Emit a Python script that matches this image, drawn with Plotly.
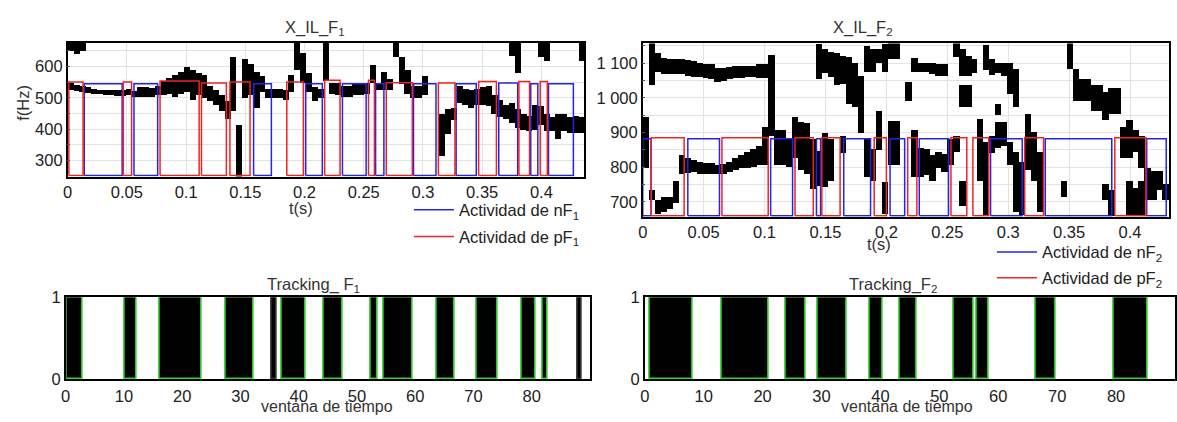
import plotly.graph_objects as go

W, H = 1177, 422
DT = 0.0049  # duration of one analysis window (s)

# ---------------- X_IL_F1 : spectrogram track (window index -> low/high Hz) ----------------
tl_main_lo = [525, 522, 520, 518, 515, 512, 510, 510, 508, 508, 510, 505, 505, 505, 505, 510, 510, 515,
              505, 515, 520, 495, 510, 500, 490, 480, 460, 435, 460, 250, 500, 510, 470, 520, 500, 500,
              500, 495, 520, 590, 550, 520, 490, 500, 555, 515, 510, 505, 505, 510, 510, 515, 550, 525,
              525, 525, 630, 545, 515, 500, 500, 510, None, None, 315, 385, 430, 485, 480, 470, 480, 480,
              475, 450, 440, 435, 420, 405, 400, 395, 400, 415, 395, 395, 370, 395, 390, 390, 390]
tl_main_hi = [547, 542, 538, 535, 530, 526, 525, 525, 525, 525, 530, 522, 535, 535, 532, 540, 555, 565,
              575, 585, 600, 590, 580, 575, 540, 525, 510, 490, 630, 415, 625, 610, 585, 570, 530, 530,
              530, 525, 575, 676, 645, 580, 535, 530, 676, 550, 550, 540, 540, 545, 550, 550, 605, 545,
              585, 560, 676, 630, 590, 540, 540, 570, None, None, 450, 465, 470, 540, 530, 525, 530, 535,
              540, 510, 495, 480, 485, 465, 450, 445, 480, 475, 450, 440, 450, 450, 440, 445, 440]
tl_extra_k = [0, 1, 2, 76, 77, 81, 82, 88]
tl_extra_lo = [650, 640, 650, 635, 580, 630, 620, 620]
tl_extra_hi = [676, 676, 676, 676, 676, 676, 676, 676]

# activity boxes F1 (start s, end s, top Hz)
n1_start = [0.014, 0.056, 0.157, 0.201, 0.232, 0.260, 0.292, 0.328, 0.364, 0.391, 0.406]
n1_end = [0.046, 0.076, 0.172, 0.215, 0.252, 0.267, 0.311, 0.345, 0.380, 0.397, 0.427]
n1_top = [545, 545, 545, 545, 545, 545, 545, 545, 547, 545, 545]
p1_start = [0.001, 0.047, 0.078, 0.113, 0.137, 0.185, 0.217, 0.254, 0.269, 0.313, 0.347, 0.381, 0.399]
p1_end = [0.013, 0.054, 0.111, 0.134, 0.154, 0.199, 0.230, 0.259, 0.291, 0.327, 0.362, 0.390, 0.405]
p1_top = [550, 550, 553, 547, 550, 550, 556, 556, 548, 547, 552, 552, 552]
F1_BOX_BOTTOM = 252

# ---------------- X_IL_F2 : spectrogram blobs (window index, low Hz, high Hz) ----------------
tr_k = [0, 1, 1, 2, 2, 3, 3, 4, 4, 5, 5, 6, 6, 7, 7, 8, 8, 9, 9, 10, 10, 11, 11, 12, 12, 13, 13,
        14, 14, 15, 15, 16, 16, 17, 17, 18, 18, 19, 19, 20, 20, 21, 22, 23, 24, 25, 26, 27, 28,
        29, 29, 30, 30, 31, 31, 32, 33, 33, 34, 35, 36, 37, 37, 38, 38, 39, 39, 40, 40, 41, 41,
        42, 42, 44, 45, 45, 46, 46, 47, 47, 48, 48, 49, 49, 50, 50, 51, 52, 52, 53, 53, 53, 54,
        54, 55, 56, 57, 57, 58, 58, 59, 59, 59, 60, 60, 61, 61, 62, 62, 63, 64, 64, 65, 66, 70,
        71, 72, 73, 74, 75, 76, 77, 77, 78, 78, 79, 80, 81, 81, 82, 82, 83, 83, 84, 85, 86, 87]
tr_lo = [796, 705, 1035, 1072, 663, 1068, 670, 1068, 677, 1068, 695, 1068, 778, 1063, 783, 1060, 785,
         1058, 780, 1055, 778, 1054, 778, 1045, 778, 1048, 778, 1052, 785, 1055, 790, 1055, 795, 1058,
         796, 1058, 800, 1055, 806, 1055, 806, 888, 806, 806, 800, 824, 790, 778, 737,
         1054, 745, 741, 1070, 1060, 760, 1036, 840, 1040, 980, 971, 898, 1072, 769, 1072, 760,
         1100, 847, 1072, 663, 1110, 806, 806, 1110, 990, 1072, 769, 1072, 769, 1072, 775, 1068,
         760, 1063, 796, 1063, 785, 806, 1118, 842, 1063, 971, 686, 1063, 971, 1070, 760, 1080,
         660, 1065, 840, 1070, 950, 855, 1063, 860, 1010, 806, 971, 670, 660, 861, 790, 760, 670,
         714, 1082, 990, 990, 990, 962, 962, 934, 705, 952, 658, 952, 824, 824, 660, 842, 660,
         796, 660, 704, 704, 732, 704]
tr_hi = [944, 732, 1157, 1127, 704, 1113, 714, 1110, 714, 1110, 760, 1110, 833, 1108, 824, 1105, 820,
         1100, 815, 1097, 812, 1095, 810, 1085, 806, 1085, 808, 1088, 815, 1090, 825, 1090, 835, 1092,
         842, 1092, 850, 1095, 860, 1095, 916, 1123, 907, 907, 880, 944, 930, 925, 879,
         1155, 845, 898, 1140, 1130, 880, 1127, 888, 1120, 1118, 1100, 1063, 1148, 879, 1140, 850,
         1140, 962, 1155, 755, 1157, 933, 933, 1157, 1045, 1113, 907, 1100, 855, 1100, 850, 1100,
         835, 1095, 842, 1095, 838, 880, 1157, 888, 1140, 1036, 760, 1120, 1036, 1110, 939, 1150,
         870, 1110, 888, 1100, 980, 930, 1100, 930, 1100, 870, 1082, 842, 815, 953, 870, 900, 842,
         760, 1157, 1082, 1054, 1054, 1036, 1036, 1017, 750, 1026, 732, 1026, 916, 934, 760, 907, 740,
         888, 760, 796, 787, 787, 750]

# activity boxes F2 (start s, end s)
n2_start = [0.0, 0.037, 0.105, 0.1426, 0.165, 0.203, 0.227, 0.2855, 0.3304, 0.4137]
n2_end = [0.0068, 0.063, 0.123, 0.146, 0.187, 0.215, 0.251, 0.3115, 0.385, 0.4297]
p2_start = [0.007, 0.065, 0.125, 0.147, 0.190, 0.2175, 0.253, 0.271, 0.3135, 0.3875]
p2_end = [0.034, 0.103, 0.140, 0.162, 0.200, 0.225, 0.266, 0.284, 0.329, 0.413]
N2_TOP, P2_TOP, F2_BOX_BOTTOM = 882, 885, 660

# ---------------- Tracking (window index ranges) ----------------
trk1_start = [0.1, 10.1, 16.1, 27.5, 37.1, 44.2, 52.4, 54.6, 63.7, 70.5, 78.2, 81.9]
trk1_end = [2.85, 12.2, 23.3, 32.2, 41.2, 47.5, 53.6, 59.5, 66.7, 74.1, 80.7, 82.8]
trk1_thin_start = [35.4, 87.9]
trk1_thin_end = [36.3, 88.6]
trk2_start = [0.8, 13.0, 23.9, 29.3, 38.2, 43.2, 52.4, 56.4, 66.4, 79.6]
trk2_end = [8.2, 21.0, 27.3, 34.3, 40.4, 46.2, 55.8, 58.3, 69.8, 85.3]

BLUE, RED, GREEN = "#2323f0", "#f02323", "#2fd62f"
FONT = "Liberation Sans, Arial, sans-serif"
TXT = "#222222"
FS = 16.5

fig = go.Figure()


def seg_bars(ks, lo, hi, xa, ya):
    xs, bases, hs = [], [], []
    for k, a, b in zip(ks, lo, hi):
        if a is None:
            continue
        xs.append((k + 0.5) * DT)
        bases.append(a)
        hs.append(b - a)
    fig.add_trace(go.Bar(x=xs, y=hs, base=bases, width=DT * 1.06, xaxis=xa, yaxis=ya,
                         marker=dict(color="black", line=dict(width=0)), showlegend=False,
                         hoverinfo="skip"))


def boxes(starts, ends, tops, bottom, color, name, xa, ya, legend):
    xs, ys = [], []
    for s, e, t in zip(starts, ends, tops):
        xs += [s, s, e, e, s, None]
        ys += [bottom, t, t, bottom, bottom, None]
    fig.add_trace(go.Scatter(x=xs, y=ys, mode="lines", line=dict(color=color, width=1.5),
                             name=name, xaxis=xa, yaxis=ya, legend=legend, showlegend=True,
                             hoverinfo="skip"))


def track_bars(starts, ends, xa, ya, edge):
    fig.add_trace(go.Bar(x=[(s + e) / 2 for s, e in zip(starts, ends)], y=[1] * len(starts),
                         base=[0] * len(starts), width=[e - s for s, e in zip(starts, ends)],
                         xaxis=xa, yaxis=ya, showlegend=False, hoverinfo="skip",
                         marker=dict(color="black", line=dict(color=edge, width=1.6))))


# top-left
seg_bars(range(len(tl_main_lo)), tl_main_lo, tl_main_hi, "x", "y")
seg_bars(tl_extra_k, tl_extra_lo, tl_extra_hi, "x", "y")
boxes(n1_start, n1_end, n1_top, F1_BOX_BOTTOM, BLUE, "Actividad de nF<sub>1</sub>", "x", "y", "legend")
boxes(p1_start, p1_end, p1_top, F1_BOX_BOTTOM, RED, "Actividad de pF<sub>1</sub>", "x", "y", "legend2")
# top-right
seg_bars(tr_k, tr_lo, tr_hi, "x2", "y2")
boxes(n2_start, n2_end, [N2_TOP] * len(n2_start), F2_BOX_BOTTOM, BLUE, "Actividad de nF<sub>2</sub>", "x2", "y2", "legend3")
boxes(p2_start, p2_end, [P2_TOP] * len(p2_start), F2_BOX_BOTTOM, RED, "Actividad de pF<sub>2</sub>", "x2", "y2", "legend4")
# bottom
track_bars(trk1_start, trk1_end, "x3", "y3", GREEN)
track_bars(trk1_thin_start, trk1_thin_end, "x3", "y3", "#333333")
track_bars(trk2_start, trk2_end, "x4", "y4", GREEN)


def px_x(p):
    return p / W


def px_y(p):
    return 1 - p / H


tickfont = dict(family=FONT, size=FS, color=TXT)
frame = dict(showline=True, mirror=True, linecolor="black", linewidth=1.5, zeroline=False,
             tickfont=tickfont)
grid = dict(showgrid=True, gridcolor="#e2e2e2", gridwidth=1)

fig.update_layout(
    width=W, height=H, margin=dict(l=0, r=0, t=0, b=0),
    paper_bgcolor="white", plot_bgcolor="white", barmode="overlay", bargap=0,
    separators=". ",
    font=dict(family=FONT, size=FS, color=TXT),
    xaxis=dict(domain=[px_x(63), px_x(582)], anchor="y", range=[0, 0.436], dtick=0.05, tick0=0,
               ticks="", **grid, **frame),
    yaxis=dict(domain=[px_y(175), px_y(35)], anchor="x", range=[249, 676], dtick=100, tick0=0,
               ticks="inside", ticklen=3, tickcolor="#555",
               minor=dict(dtick=50, tick0=0, ticks="inside", ticklen=3, tickcolor="#555",
                          showgrid=True, gridcolor="#e2e2e2"),
               **grid, **frame),
    xaxis2=dict(domain=[px_x(641), px_x(1170)], anchor="y2", range=[0, 0.432], dtick=0.05, tick0=0,
                ticks="", **grid, **frame),
    yaxis2=dict(domain=[px_y(217), px_y(36)], anchor="x2", range=[657, 1157], dtick=100, tick0=0,
                tickformat=",d", ticks="inside", ticklen=3, tickcolor="#555",
                minor=dict(dtick=50, tick0=0, ticks="inside", ticklen=3, tickcolor="#555",
                           showgrid=True, gridcolor="#e2e2e2"),
                **grid, **frame),
    xaxis3=dict(domain=[px_x(61), px_x(588)], anchor="y3", range=[0, 90],
                tickvals=[0, 10, 20, 30, 40, 50, 60, 70, 80], showgrid=False, ticks="",
                ticklabelstandoff=1, **frame),
    yaxis3=dict(domain=[px_y(387), px_y(301)], anchor="x3", range=[0, 1], tickvals=[0, 1],
                showgrid=False, ticks="", **frame),
    xaxis4=dict(domain=[px_x(643), px_x(1176)], anchor="y4", range=[0, 90],
                tickvals=[0, 10, 20, 30, 40, 50, 60, 70, 80], showgrid=False, ticks="",
                ticklabelstandoff=1, **frame),
    yaxis4=dict(domain=[px_y(387), px_y(301)], anchor="x4", range=[0, 1], tickvals=[0, 1],
                showgrid=False, ticks="", **frame),
)

leg_common = dict(bgcolor="rgba(0,0,0,0)", borderwidth=0, xanchor="left", yanchor="middle",
                  font=dict(family=FONT, size=FS, color=TXT), itemwidth=40)
fig.update_layout(
    legend=dict(x=px_x(406), y=px_y(210), **leg_common),
    legend2=dict(x=px_x(406), y=px_y(238), **leg_common),
    legend3=dict(x=px_x(992), y=px_y(254), **leg_common),
    legend4=dict(x=px_x(992), y=px_y(281), **leg_common),
)

ann_font = dict(family=FONT, size=FS, color="#333333")
labels = [
    ("X_IL_F<sub>1</sub>", 312, 20),
    ("X_IL_F<sub>2</sub>", 862, 20),
    ("Tracking_ F<sub>1</sub>", 310, 288),
    ("Tracking_F<sub>2</sub>", 893, 288),
    ("t(s)", 298, 208),
    ("t(s)", 878, 245),
]
for text, x, y in labels:
    fig.add_annotation(text=text, x=px_x(x), y=px_y(y), xref="paper", yref="paper",
                       showarrow=False, xanchor="center", yanchor="middle", font=ann_font)
for x in (324, 907):
    fig.add_annotation(text="ventana de tiempo", x=px_x(x), y=px_y(405), xref="paper",
                       yref="paper", showarrow=False, xanchor="center", yanchor="top",
                       borderpad=0, font=dict(family=FONT, size=16, color="#333333"))
fig.add_annotation(text="f(Hz)", x=px_x(18), y=px_y(98), xref="paper", yref="paper",
                   showarrow=False, xanchor="center", yanchor="middle", textangle=-90,
                   font=ann_font)

fig.write_html("out.html")
